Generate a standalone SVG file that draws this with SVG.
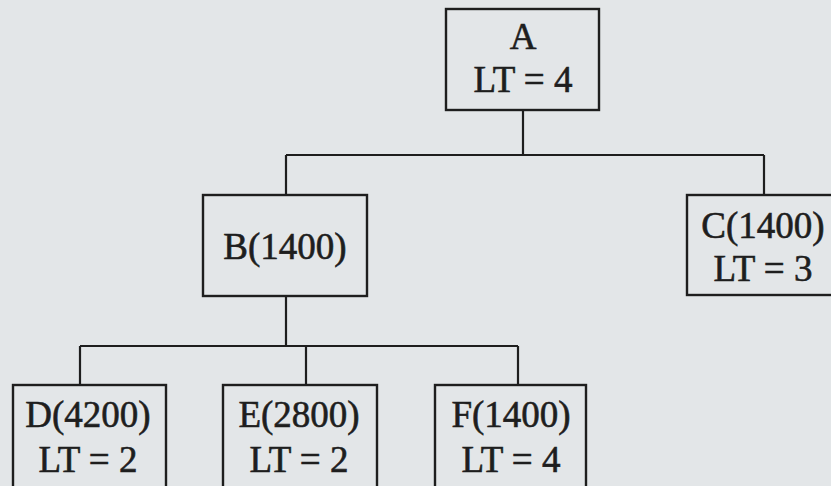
<svg xmlns="http://www.w3.org/2000/svg" width="831" height="486" viewBox="0 0 831 486">
<style>
.bx{fill:none;stroke:#1e1e1e;stroke-width:2.4}
.ln{fill:none;stroke:#1e1e1e;stroke-width:2.2}
text{font-family:"Liberation Serif","Times New Roman",serif;font-size:37px;fill:#1e1e1e;stroke:#1e1e1e;stroke-width:0.6;text-anchor:middle}
</style>
<rect width="831" height="486" fill="#e3e6e8"/>
<g id="connectors">
<path class="ln" d="M523 110V155M286 155H764M286 155V195M764 155V195"/>
<path class="ln" d="M286 296V346M80 346H518M80 346V385M306 346V385M518 346V385"/>
</g>
<g id="A"><rect class="bx" x="446" y="9" width="153" height="101"/><text x="523" y="49">A</text><text x="523" y="92">LT = 4</text></g>
<g id="B"><rect class="bx" x="203" y="195" width="164" height="101"/><text x="285" y="259">B(1400)</text></g>
<g id="C"><rect class="bx" x="687" y="195" width="153" height="100"/><text x="763" y="238">C(1400)</text><text x="763" y="281">LT = 3</text></g>
<g id="D"><rect class="bx" x="13" y="385" width="153" height="110"/><text x="88" y="427">D(4200)</text><text x="88" y="472">LT = 2</text></g>
<g id="E"><rect class="bx" x="223" y="385" width="154" height="110"/><text x="299" y="427">E(2800)</text><text x="299" y="472">LT = 2</text></g>
<g id="F"><rect class="bx" x="435" y="385" width="151" height="110"/><text x="511" y="427">F(1400)</text><text x="511" y="472">LT = 4</text></g>
</svg>
